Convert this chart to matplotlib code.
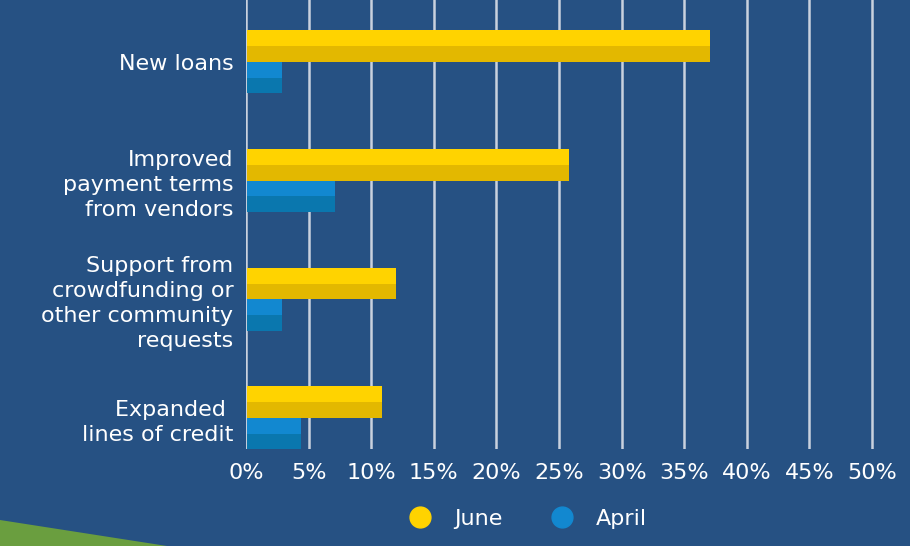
import matplotlib
matplotlib.use('Agg')
import matplotlib.pyplot as plt
from matplotlib.lines import Line2D
from matplotlib.patches import Polygon
import numpy as np

categories = ['New loans',
              'Improved\npayment terms\nfrom vendors',
              'Support from\ncrowdfunding or\nother community\nrequests',
              'Expanded \nlines of credit']
june = [37.1, 25.8, 12.0, 10.9]
april = [2.9, 7.1, 2.9, 4.4]
ticks = list(range(0, 55, 5))
tick_labels = ['%d%%' % t for t in ticks]

bg = '#265183'
june_hi, june_lo = '#ffd300', '#e3b800'
april_hi, april_lo = '#1288d0', '#0a77ae'

plt.rcParams['font.family'] = ['DejaVu Sans']

fig = plt.figure(figsize=(9.1, 5.46), dpi=100)
fig.patch.set_facecolor(bg)
ax = fig.add_axes([246 / 910, (546 - 449) / 546, 638.5 / 910, 449 / 546])
ax.set_facecolor(bg)

# green corner shape
fig.patches.append(Polygon([[0, 0], [0, 26 / 546], [167 / 910, 0]], closed=True,
                           transform=fig.transFigure, facecolor='#6a9e3f',
                           edgecolor='none', zorder=0))

pos = np.arange(len(categories))[::-1]
h = 0.1325
ax.barh(pos + 1.5 * h, june, height=h, color=june_hi, zorder=3)
ax.barh(pos + 0.5 * h, june, height=h, color=june_lo, zorder=3)
ax.barh(pos - 0.5 * h, april, height=h, color=april_hi, zorder=3)
ax.barh(pos - 1.5 * h, april, height=h, color=april_lo, zorder=3)

ax.set_xlim(0, 51)
ax.set_ylim(-0.262, 3.522)
ax.set_xticks(ticks)
ax.set_xticklabels(tick_labels)
ax.set_yticks(pos)
ax.set_yticklabels(categories, linespacing=1.3)
ax.tick_params(length=0, colors='white', labelsize=16)
ax.tick_params(axis='y', pad=9)
ax.tick_params(axis='x', pad=10)
for lab in ax.get_yticklabels():
    lab.set_horizontalalignment('right')
    lab.set_multialignment('right')
for s in ax.spines.values():
    s.set_visible(False)
ax.grid(axis='x', color='#c9d1de', lw=1.8, zorder=1)
ax.axvline(0, color='#c9d1de', lw=1.4, zorder=4)
ax.set_axisbelow(True)

handles = [Line2D([], [], marker='o', ls='none', markersize=15, color=june_hi, label='June'),
           Line2D([], [], marker='o', ls='none', markersize=15, color=april_hi, label='April')]
leg = fig.legend(handles=handles, loc='center', bbox_to_anchor=(0.574, 1 - 519 / 546),
                 ncol=2, frameon=False, fontsize=16, handletextpad=0.5, columnspacing=1.7)
for t in leg.get_texts():
    t.set_color('white')

fig.savefig('out.png', dpi=100, facecolor=bg)
